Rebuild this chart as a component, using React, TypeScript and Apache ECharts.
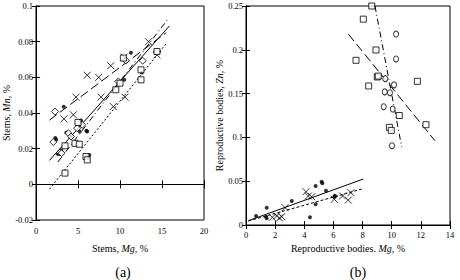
import React, { useEffect, useRef } from "react";
import * as echarts from "echarts";

// ---------- Panel (a): Stems, Mg vs Mn ----------
const aDots: number[][] = [
  [2.3, 0.026], [2.4, 0.025], [3.3, 0.0435], [3.6, 0.029], [4.2, 0.027], [5.2, 0.0296],
  [5.36, 0.0358], [6.0, 0.030], [6.1, 0.0296], [6.35, 0.0165], [6.0, 0.0156],
  [10.5, 0.0586], [11.3, 0.0738], [12.6, 0.0627], [2.6, 0.017], [3.0, 0.019],
];
const aCross: number[][] = [
  [3.33, 0.0367], [4.45, 0.039], [4.76, 0.0489], [6.1, 0.0612], [7.46, 0.060],
  [7.74, 0.0489], [8.9, 0.0665], [9.2, 0.0436], [10.5, 0.0713], [10.6, 0.0489],
  [13.4, 0.080], [14.4, 0.0726],
];
const aDiamond: number[][] = [
  [2.26, 0.0408], [2.06, 0.0237], [2.86, 0.0178], [3.05, 0.0175], [3.85, 0.0287],
  [4.17, 0.0268], [4.9, 0.0315], [5.5, 0.0334], [9.8, 0.0577], [10.7, 0.0694],
  [12.7, 0.0693], [14.4, 0.0741],
];
const aSquare: number[][] = [
  [3.45, 0.0216], [3.45, 0.0063], [4.64, 0.023], [5.15, 0.0225], [5.0, 0.0347],
  [5.95, 0.0156], [6.1, 0.0137], [9.5, 0.053], [10.0, 0.0567], [10.4, 0.0708],
  [12.5, 0.0642], [12.5, 0.0586], [14.4, 0.0745],
];
const aSolidLine: number[][] = [[1.6, 0.0134], [15.9, 0.0889]];
const aLongDashLine: number[][] = [[1.6, 0.036], [15.5, 0.085]];
const aDashDotLine: number[][] = [[2.6, 0.0125], [15.6, 0.092]];
const aDottedLine: number[][] = [[1.6, -0.0027], [15.6, 0.0795]];

// ---------- Panel (b): Reproductive bodies, Mg vs Zn ----------
const bSquare: number[][] = [
  [8.63, 0.25], [8.05, 0.235], [8.92, 0.1998], [7.55, 0.188], [9.01, 0.169], [9.08, 0.170],
  [8.42, 0.1587], [11.76, 0.164], [10.52, 0.125], [12.35, 0.1145], [9.84, 0.1115], [9.97, 0.108],
];
const bCircle: number[][] = [
  [10.3, 0.218], [10.3, 0.1895], [9.56, 0.167], [10.16, 0.160], [9.52, 0.152], [9.88, 0.151],
  [9.45, 0.135], [10.07, 0.1324], [10.02, 0.0905],
];
const bDots: number[][] = [
  [0.69, 0.0103], [1.42, 0.0198], [1.37, 0.0095], [1.42, 0.0076], [3.14, 0.0274],
  [4.78, 0.0445], [5.19, 0.0494], [5.24, 0.0476], [5.49, 0.0392], [4.78, 0.0236],
  [4.39, 0.0088], [6.06, 0.0323], [6.1, 0.0334],
];
const bCross: number[][] = [
  [1.81, 0.0088], [2.1, 0.0103], [2.45, 0.0095], [2.3, 0.008], [2.68, 0.0198],
  [4.12, 0.038], [4.28, 0.0331], [4.51, 0.0323], [6.06, 0.0293], [6.63, 0.0331],
  [7.02, 0.0285], [7.2, 0.0369],
];
const bLongDashLine: number[][] = [[7.02, 0.218], [12.97, 0.0962]];
const bDashDotLine: number[][] = [[8.85, 0.25], [10.69, 0.0887]];
const bSolidLine: number[][] = [[0.16, 0.0049], [8.05, 0.0525]];
const bShortDashLine: number[][] = [[0.16, 0.0046], [7.94, 0.041]];

const FONT = "'Liberation Serif', 'Times New Roman', 'DejaVu Serif', serif";

export default function App() {
  const ref = useRef<HTMLDivElement>(null);
  useEffect(() => {
    if (!ref.current) return;
    const chart = echarts.init(ref.current, undefined, { renderer: "svg" });

    const crossPath = "path://M0 0L10 10M10 0L0 10";
    const tickLabel = { fontFamily: FONT, fontSize: 8.5, fontWeight: "normal" as const, color: "#000" };
    const nameStyle = {
      fontFamily: FONT,
      fontSize: 10,
      fontWeight: "normal" as const,
      color: "#000",
      rich: {
        n: { fontFamily: FONT, fontSize: 10, fontWeight: "normal" as const, color: "#000" },
        i: { fontFamily: FONT, fontSize: 10, fontWeight: "normal" as const, fontStyle: "italic" as const, color: "#000" },
      },
    };
    const lineAxis = { show: true, lineStyle: { color: "#000", width: 1 } };
    const tick = { show: true, inside: true, length: 4, lineStyle: { color: "#000", width: 1 } };

    const mkX = (grid: number, min: number, max: number, interval: number, name: string, gap: number, labMargin: number) => [
      {
        type: "value", gridIndex: grid, min, max, interval, name, nameLocation: "middle", nameGap: gap,
        nameTextStyle: nameStyle, axisLine: lineAxis, axisTick: tick, splitLine: { show: false },
        axisLabel: { ...tickLabel, margin: labMargin },
      },
      {
        type: "value", gridIndex: grid, min, max, interval, position: "top",
        axisLine: lineAxis, axisTick: tick, splitLine: { show: false }, axisLabel: { show: false },
      },
    ];
    const mkY = (grid: number, min: number, max: number, interval: number, name: string, gap: number) => [
      {
        type: "value", gridIndex: grid, min, max, interval, name, nameLocation: "middle", nameGap: gap,
        nameTextStyle: nameStyle, axisLine: lineAxis, axisTick: tick, splitLine: { show: false },
        axisLabel: { ...tickLabel, margin: 3 },
      },
      {
        type: "value", gridIndex: grid, min, max, interval, position: "right",
        axisLine: lineAxis, axisTick: tick, splitLine: { show: false }, axisLabel: { show: false },
      },
    ];

    const xAxes = [
      ...mkX(0, 0, 20, 5, "{n|Stems, }{i|Mg}{n|, %}", 23, 6),
      ...mkX(1, 0, 14, 2, "{n|Reproductive bodies. }{i|Mg}{n|, %}", 17, 5),
    ];
    const yAxes = [
      ...mkY(0, -0.02, 0.1, 0.02, "{n|Stems, }{i|Mn}{n|, %}", 24),
      ...mkY(1, 0, 0.25, 0.05, "{n|Reproductive bodies, }{i|Zn}{n|, %}", 13),
    ];

    const scatter = (xi: number, yi: number, data: number[][], symbol: string, size: number | number[], filled: boolean) => ({
      type: "scatter", xAxisIndex: xi, yAxisIndex: yi, data, symbol, symbolSize: size,
      itemStyle: filled
        ? { color: "#000" }
        : { color: symbol.startsWith("path") ? "none" : "#fff", borderColor: "#000", borderWidth: 1 },
      z: 3,
    });
    const line = (xi: number, yi: number, data: number[][], type: any) => ({
      type: "line", xAxisIndex: xi, yAxisIndex: yi, data, symbol: "none",
      lineStyle: { color: "#000", width: 1, type }, z: 2,
    });

    chart.setOption({
      animation: false,
      backgroundColor: "#fff",
      textStyle: { fontFamily: FONT },
      grid: [
        { left: 36, top: 6, width: 168, height: 214, show: true, borderColor: "#000", borderWidth: 1, outerBoundsMode: "none" },
        { left: 246, top: 6, width: 204, height: 219, show: true, borderColor: "#000", borderWidth: 1, outerBoundsMode: "none" },
      ],
      xAxis: xAxes,
      yAxis: yAxes,
      series: [
        line(0, 0, aSolidLine, "solid"),
        line(0, 0, aLongDashLine, [9, 4]),
        line(0, 0, aDashDotLine, [6, 3, 1, 3]),
        line(0, 0, aDottedLine, [2, 2]),
        scatter(0, 0, aDots, "circle", 4, true),
        scatter(0, 0, aCross, crossPath, 7, false),
        scatter(0, 0, aDiamond, "diamond", 7, false),
        scatter(0, 0, aSquare, "rect", 6, false),
        line(2, 2, bLongDashLine, [9, 4]),
        line(2, 2, bDashDotLine, [6, 3, 1, 3]),
        line(2, 2, bSolidLine, "solid"),
        line(2, 2, bShortDashLine, [3, 2]),
        scatter(2, 2, bSquare, "rect", 6, false),
        scatter(2, 2, bCircle, "circle", [5, 6], false),
        scatter(2, 2, bDots, "circle", 4, true),
        scatter(2, 2, bCross, crossPath, 7, false),
      ],
      graphic: [
        { type: "text", x: 123, y: 272, style: { text: "(a)", fontFamily: FONT, fontSize: 14, fill: "#000", align: "center", verticalAlign: "middle" } },
        { type: "text", x: 358, y: 272, style: { text: "(b)", fontFamily: FONT, fontSize: 14, fill: "#000", align: "center", verticalAlign: "middle" } },
      ],
    });
    return () => chart.dispose();
  }, []);
  return <div ref={ref} style={{ position: "fixed", left: 0, top: 0, width: 460, height: 280 }} />;
}
